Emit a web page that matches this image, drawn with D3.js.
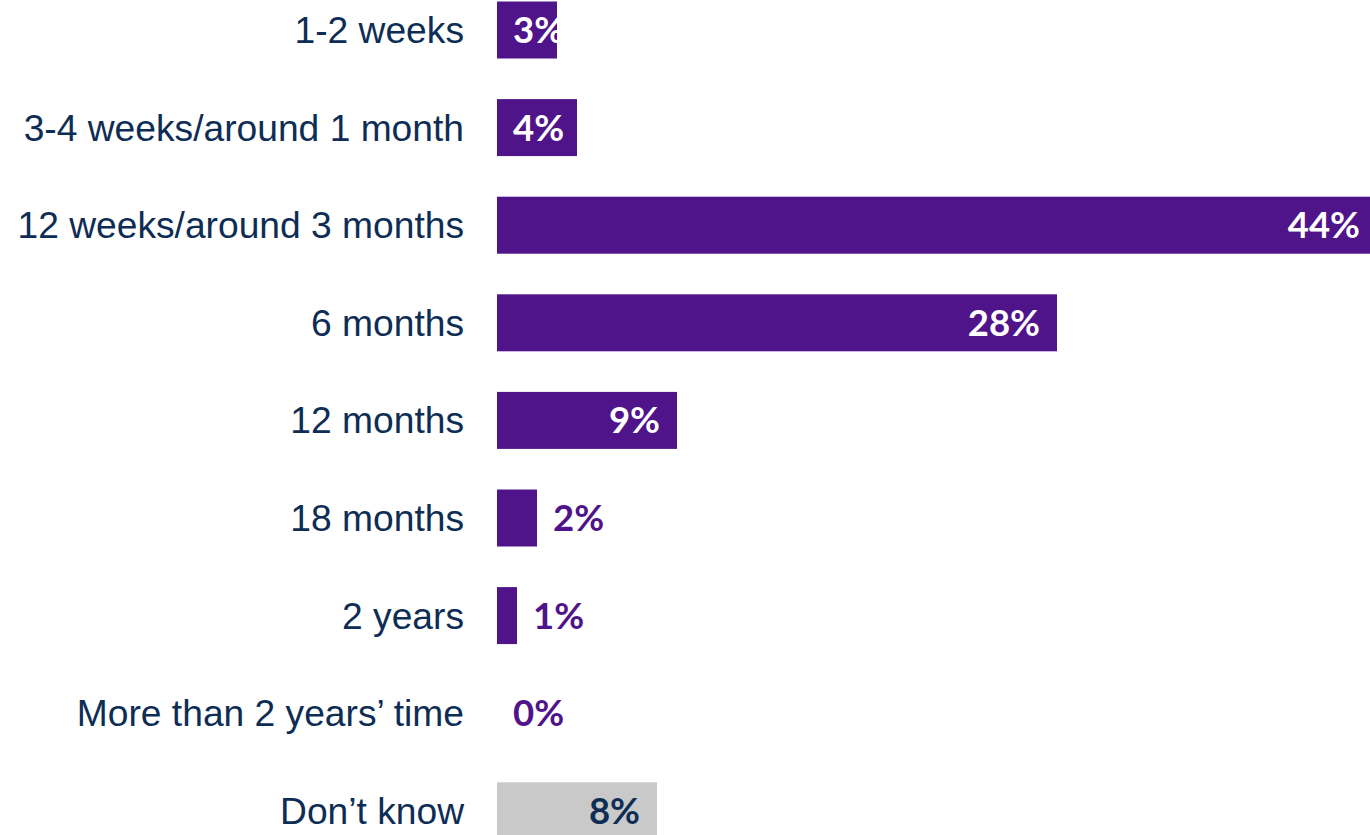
<!DOCTYPE html>
<html>
<head>
<meta charset="utf-8">
<script src="https://cdn.jsdelivr.net/npm/d3@7"></script>
<style>
  html, body { margin: 0; padding: 0; background: #fff; overflow: hidden; }
  svg { display: block; }
</style>
</head>
<body>
<svg id="chart" width="1370" height="835"></svg>
<script>
const categories = [
  "1-2 weeks",
  "3-4 weeks/around 1 month",
  "12 weeks/around 3 months",
  "6 months",
  "12 months",
  "18 months",
  "2 years",
  "More than 2 years\u2019 time",
  "Don\u2019t know"
];
const values = [3, 4, 44, 28, 9, 2, 1, 0, 8];
const valueLabels = ["3%", "4%", "44%", "28%", "9%", "2%", "1%", "0%", "8%"];
const isDontKnow = [false, false, false, false, false, false, false, false, true];

const PURPLE = "#4F148A";
const NAVY = "#0E2D55";
const GREY = "#C9C9C9";

const svg = d3.select("#chart");

const x = d3.scaleLinear().domain([0, 44]).range([497, 1377]);
const y = d3.scaleBand()
  .domain(categories)
  .range([-18.8, 859.6])
  .paddingInner(0.416)
  .paddingOuter(0.208);

const rows = categories.map((c, i) => ({
  cat: c, v: values[i], label: valueLabels[i], dk: isDontKnow[i]
}));

// bars
svg.append("g").selectAll("rect")
  .data(rows)
  .join("rect")
  .attr("x", x(0))
  .attr("y", d => y(d.cat))
  .attr("width", d => x(d.v) - x(0))
  .attr("height", y.bandwidth())
  .attr("fill", d => d.dk ? GREY : PURPLE);

// category labels
svg.append("g").selectAll("text")
  .data(rows)
  .join("text")
  .attr("x", 464)
  .attr("y", d => y(d.cat) + y.bandwidth() / 2 + 13)
  .attr("text-anchor", "end")
  .attr("font-family", "'Liberation Sans', Arial, sans-serif")
  .attr("font-size", 37.2)
  .attr("fill", NAVY)
  .text(d => d.cat);

// value labels
const inside = d => d.v >= 3;
const vl = svg.append("g").selectAll("text")
  .data(rows)
  .join("text")
  .attr("y", d => y(d.cat) + y.bandwidth() / 2 + 13)
  .attr("text-anchor", "start")
  .attr("font-family", "Lato, 'Open Sans', sans-serif")
  .attr("font-weight", "bold")
  .attr("font-size", 36.5)
  .attr("fill", d => d.dk ? NAVY : (inside(d) ? "#ffffff" : PURPLE))
  .text(d => d.label);

vl.each(function(d) {
  const w = this.getComputedTextLength();
  let px;
  if (inside(d)) {
    px = Math.max(x(d.v) - 17 - w, x(0) + 16);
  } else {
    px = x(d.v) + 16;
  }
  d3.select(this).attr("x", px);
});
</script>
</body>
</html>
